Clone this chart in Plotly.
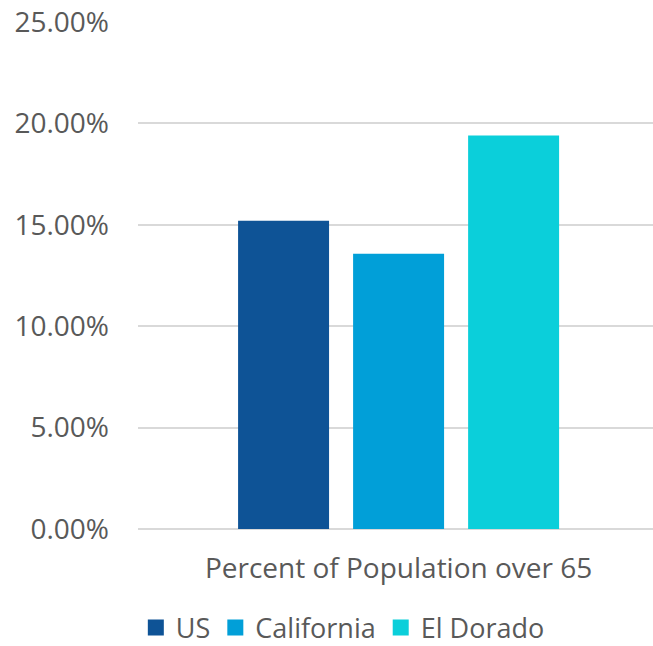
import plotly.graph_objects as go

category = ["Percent of Population over 65"]
series_names = ["US", "California", "El Dorado"]
series_values = [[0.1520], [0.1357], [0.1940]]
colors = ["#0E5396", "#019FD8", "#0BCFDA"]
y_ticks = [0, 0.05, 0.10, 0.15, 0.20, 0.25]

fig = go.Figure()
for name, vals, col in zip(series_names, series_values, colors):
    fig.add_trace(go.Bar(name=name, x=category, y=vals, marker_color=col,
                         marker_line_width=0, showlegend=False,
                         legendgroup=name))
# legend entries with larger square swatches
for name, col in zip(series_names, colors):
    fig.add_trace(go.Scatter(name=name, x=[None], y=[None], mode="markers",
                             marker=dict(symbol="square", size=16, color=col),
                             legendgroup=name, showlegend=True))

font_family = "Open Sans, Liberation Sans, sans-serif"
fig.update_layout(
    width=653, height=646,
    margin=dict(l=138, r=0, t=22, b=117),
    plot_bgcolor="white", paper_bgcolor="white",
    barmode="group", bargap=0.33, bargroupgap=0.209,
    font=dict(family=font_family, color="#595959", size=28),
    showlegend=True,
    legend=dict(orientation="h", xref="container", x=0.525, xanchor="center",
                yref="container", y=0.028, yanchor="middle",
                font=dict(size=27, color="#595959"), itemwidth=30,
                itemsizing="trace", traceorder="normal",
                borderwidth=0),
    xaxis=dict(showgrid=False, showline=False, ticks="",
               range=[-0.506, 0.494],
               ticklabelstandoff=20, tickfont=dict(size=28)),
    yaxis=dict(range=[0, 0.25], tickvals=y_ticks, tickformat=".2%",
               showgrid=True, gridcolor="#D9D9D9", gridwidth=1.5,
               zeroline=True, zerolinecolor="#D9D9D9", zerolinewidth=1.5,
               showline=False, ticks="", ticklabelstandoff=28,
               tickfont=dict(size=28)),
)

fig.write_html("out.html")
